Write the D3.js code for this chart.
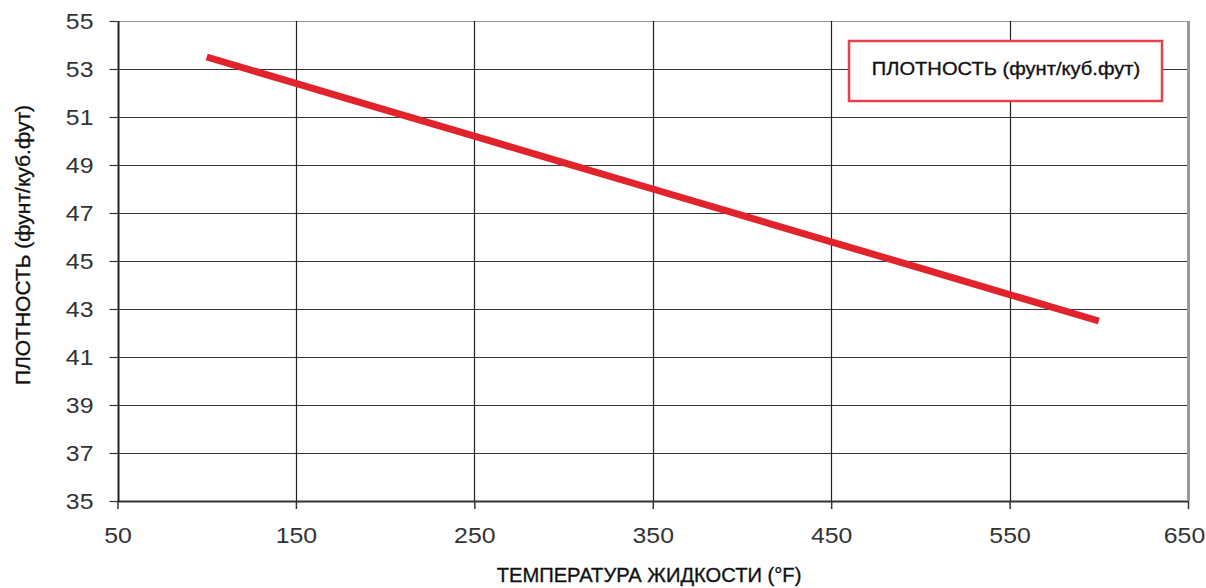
<!DOCTYPE html>
<html><head><meta charset="utf-8">
<script src="https://cdn.jsdelivr.net/npm/d3@7"></script>
<style>body{margin:0;background:#fff;} svg{display:block;}</style>
</head><body><svg id="c" width="1206" height="588"></svg>
<script>
const temps = [100, 150, 200, 250, 300, 350, 400, 450, 500, 550, 600];
const density = [53.5, 52.4, 51.3, 50.2, 49.1, 48.0, 46.9, 45.8, 44.7, 43.6, 42.5];
const xTicks = [50, 150, 250, 350, 450, 550, 650];
const yTicks = [35, 37, 39, 41, 43, 45, 47, 49, 51, 53, 55];
const seriesName = "ПЛОТНОСТЬ (фунт/куб.фут)";
const xTitle = "ТЕМПЕРАТУРА ЖИДКОСТИ (°F)";
const yTitle = "ПЛОТНОСТЬ (фунт/куб.фут)";

const svg = d3.select("#c");
const L = 117.5, R = 1188, T = 21, B = 501;
const x = d3.scaleLinear().domain([50, 650]).range([L, R]);
const y = d3.scaleLinear().domain([35, 55]).range([B, T]);
const font = "'Liberation Sans', Arial, sans-serif";
const sx = 1.13;

// grid
svg.append("g").selectAll("line.h").data(yTicks).join("line")
  .attr("x1", L).attr("x2", R).attr("y1", d => Math.round(y(d)) + 0.5).attr("y2", d => Math.round(y(d)) + 0.5)
  .attr("stroke", d => d === 55 ? "#999" : "#333").attr("stroke-width", d => d === 35 ? 2 : 1.2);
svg.append("g").selectAll("line.v").data(xTicks).join("line")
  .attr("y1", T).attr("y2", B).attr("x1", d => Math.round(x(d)) + 0.5).attr("x2", d => Math.round(x(d)) + 0.5)
  .attr("stroke", d => d === 650 ? "#999" : "#222").attr("stroke-width", d => d === 650 ? 3 : (d === 50 ? 2 : 1.2));

// axes
const yAxis = d3.axisLeft(y).tickValues(yTicks).tickSize(8).tickPadding(16).tickFormat(d3.format("d"));
const gy = svg.append("g").attr("transform", `translate(${L},0)`).call(yAxis);
gy.select(".domain").remove();
gy.selectAll("line").attr("stroke", "#333").attr("stroke-width", 1.2);
gy.selectAll("text").attr("font-family", font).attr("font-size", 22).attr("fill", "#333")
  .attr("x", -24 / sx).attr("transform", `scale(${sx},1)`);

const xAxis = d3.axisBottom(x).tickValues(xTicks).tickSize(8).tickPadding(18).tickFormat(d3.format("d"));
const gx = svg.append("g").attr("transform", `translate(0,${B})`).call(xAxis);
gx.select(".domain").remove();
gx.selectAll("line").attr("stroke", "#333").attr("stroke-width", 1.5);
gx.selectAll("text").attr("font-family", font).attr("font-size", 22).attr("fill", "#333")
  .attr("transform", `scale(${sx},1)`);
gx.selectAll(".tick").filter(d => d === 650).select("text").attr("x", -4 / sx);

// line
svg.append("path").datum(temps.map((t, i) => [t, density[i]]))
  .attr("d", d3.line().x(d => x(d[0])).y(d => y(d[1])))
  .attr("fill", "none").attr("stroke", "#e1232b").attr("stroke-width", 7);

// legend
svg.append("rect").attr("x", 849).attr("y", 41).attr("width", 313).attr("height", 60)
  .attr("fill", "#fff").attr("stroke", "#e8404a").attr("stroke-width", 2.5);
svg.append("text").attr("x", 1006).attr("y", 75.5).attr("text-anchor", "middle")
  .attr("font-family", font).attr("font-size", 19).attr("fill", "#111")
  .attr("stroke", "#111").attr("stroke-width", 0.35)
  .attr("transform", "translate(1006,0) scale(1.06,1) translate(-1006,0)")
  .text(seriesName);

// titles
svg.append("text").attr("x", 649).attr("y", 582).attr("text-anchor", "middle")
  .attr("font-family", font).attr("font-size", 21).attr("fill", "#111")
  .attr("stroke", "#111").attr("stroke-width", 0.35)
  .attr("transform", "translate(649,0) scale(0.96,1) translate(-649,0)")
  .text(xTitle);
svg.append("text").attr("transform", "translate(30,245) rotate(-90) scale(1.0,1)")
  .attr("text-anchor", "middle")
  .attr("font-family", font).attr("font-size", 21).attr("fill", "#111")
  .attr("stroke", "#111").attr("stroke-width", 0.35)
  .text(yTitle);
</script></body></html>
